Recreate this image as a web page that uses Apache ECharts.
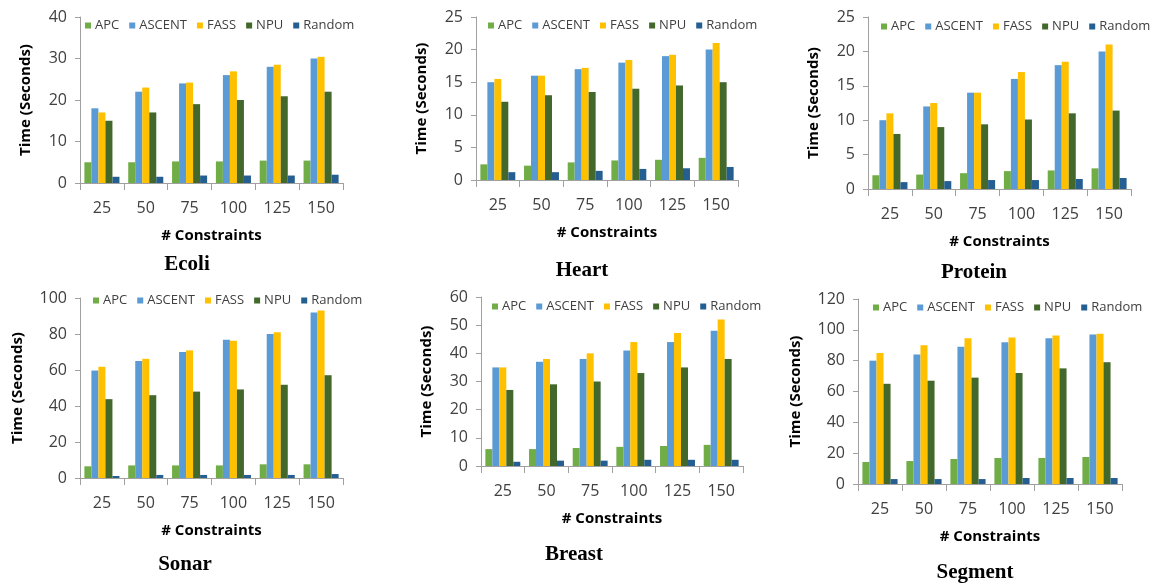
<!DOCTYPE html>
<html>
<head>
<meta charset="utf-8">
<script src="https://cdn.jsdelivr.net/npm/echarts@6/dist/echarts.min.js"></script>
<style>
  html, body { margin: 0; padding: 0; background: #fff; }
  #chart { width: 1158px; height: 585px; }
</style>
</head>
<body>
<div id="chart"></div>
<script>
// ---------- DATA ----------
const categories = ['25', '50', '75', '100', '125', '150'];
const seriesNames = ['APC', 'ASCENT', 'FASS', 'NPU', 'Random'];
const panelTitles = ['Ecoli', 'Heart', 'Protein', 'Sonar', 'Breast', 'Segment'];
const yMax = [40, 25, 25, 100, 60, 120];
const yStep = [10, 5, 5, 20, 10, 20];

const ecoliAPC    = [5.0, 5.0, 5.2, 5.2, 5.4, 5.4];
const ecoliASCENT = [18, 22, 24, 26, 28, 30];
const ecoliFASS   = [17, 23, 24.2, 26.9, 28.5, 30.4];
const ecoliNPU    = [15, 17, 19, 20, 20.9, 22];
const ecoliRandom = [1.5, 1.5, 1.8, 1.8, 1.8, 2.0];

const heartAPC    = [2.4, 2.2, 2.7, 3.0, 3.1, 3.4];
const heartASCENT = [15, 16, 17, 18, 19, 20];
const heartFASS   = [15.5, 16, 17.2, 18.4, 19.2, 21];
const heartNPU    = [12, 13, 13.5, 14, 14.5, 15];
const heartRandom = [1.2, 1.2, 1.4, 1.7, 1.8, 2.0];

const proteinAPC    = [2.0, 2.1, 2.3, 2.6, 2.7, 3.0];
const proteinASCENT = [10, 12, 14, 16, 18, 20];
const proteinFASS   = [11, 12.5, 14, 17, 18.5, 21];
const proteinNPU    = [8, 9, 9.4, 10.1, 11, 11.4];
const proteinRandom = [1.0, 1.15, 1.3, 1.3, 1.45, 1.6];

const sonarAPC    = [6.5, 7, 7, 7, 7.6, 7.6];
const sonarASCENT = [59.7, 65, 70, 76.8, 80, 92];
const sonarFASS   = [61.8, 66.2, 70.9, 76.2, 81, 93];
const sonarNPU    = [43.8, 46, 48, 49.2, 51.8, 57.1];
const sonarRandom = [1.1, 1.7, 1.7, 1.7, 1.7, 2.2];

const breastAPC    = [6, 6, 6.4, 6.8, 7.1, 7.5];
const breastASCENT = [35, 37, 38, 41, 44, 48];
const breastFASS   = [35, 38, 40, 44, 47.2, 52];
const breastNPU    = [27, 29, 30, 33, 35, 38];
const breastRandom = [1.5, 1.9, 1.9, 2.2, 2.2, 2.2];

const segmentAPC    = [14.3, 14.9, 16.2, 16.9, 16.9, 17.5];
const segmentASCENT = [80, 84, 89, 92, 94.5, 97];
const segmentFASS   = [85, 90, 94.5, 95, 96.4, 97.5];
const segmentNPU    = [65, 67, 69, 72, 75, 79];
const segmentRandom = [3.2, 3.2, 3.2, 3.9, 3.9, 3.9];

const panelData = [
  [ecoliAPC, ecoliASCENT, ecoliFASS, ecoliNPU, ecoliRandom],
  [heartAPC, heartASCENT, heartFASS, heartNPU, heartRandom],
  [proteinAPC, proteinASCENT, proteinFASS, proteinNPU, proteinRandom],
  [sonarAPC, sonarASCENT, sonarFASS, sonarNPU, sonarRandom],
  [breastAPC, breastASCENT, breastFASS, breastNPU, breastRandom],
  [segmentAPC, segmentASCENT, segmentFASS, segmentNPU, segmentRandom]
];

// ---------- LAYOUT / STYLE ----------
const colors = ['#70AD47', '#5B9BD5', '#FFC000', '#43682B', '#255E91'];
// grid boxes: [left, top, right-edge, bottom-edge]
const boxes = [
  [80, 17, 343, 183],
  [476, 17, 738, 180],
  [868, 17, 1131, 189],
  [80, 298, 343, 478],
  [481, 297, 743, 466],
  [858, 299, 1122, 484]
];
const legendPos = [[85, 27], [488, 27], [881, 28], [93, 302], [492, 308], [873, 309]];
const titlePos = [[187, 265], [582, 271], [974, 273], [185, 565], [574, 555], [975, 573]];
const yNameGap = [47, 47, 47, 55, 47, 55];

const axisGray = '#A0A0A0';
const labelColor = '#404040';
const sansFont = '"Open Sans", "DejaVu Sans", sans-serif';

const grid = [], xAxis = [], yAxis = [], series = [], legend = [], graphic = [];

boxes.forEach((b, i) => {
  grid.push({ left: b[0], top: b[1], width: b[2] - b[0], height: b[3] - b[1], containLabel: false });
  xAxis.push({
    type: 'category', gridIndex: i, data: categories,
    axisLine: { show: true, lineStyle: { color: axisGray, width: 1 } },
    axisTick: { show: true, length: 7, alignWithLabel: false, lineStyle: { color: axisGray } },
    axisLabel: { fontSize: 16, color: labelColor, margin: 17, fontFamily: sansFont },
    name: '# Constraints', nameLocation: 'middle', nameGap: 45,
    nameTextStyle: { fontSize: 15, fontWeight: 'bold', color: '#000', fontFamily: sansFont },
    splitLine: { show: false }
  });
  yAxis.push({
    type: 'value', gridIndex: i, min: 0, max: yMax[i], interval: yStep[i],
    axisLine: { show: true, lineStyle: { color: axisGray, width: 1 } },
    axisTick: { show: true, length: 5, lineStyle: { color: axisGray } },
    axisLabel: { fontSize: 16, color: labelColor, margin: 13, fontFamily: sansFont },
    splitLine: { show: false },
    name: 'Time (Seconds)', nameLocation: 'middle', nameRotate: 90, nameGap: yNameGap[i],
    nameTextStyle: { fontSize: 15, fontWeight: 'bold', color: '#000', fontFamily: sansFont }
  });
  seriesNames.forEach((n, k) => {
    series.push({
      type: 'bar', name: n, xAxisIndex: i, yAxisIndex: i,
      data: panelData[i][k],
      barGap: '0%', barCategoryGap: '20%',
      itemStyle: { color: colors[k] },
      emphasis: { disabled: true }
    });
  });
  legend.push({
    data: seriesNames, left: legendPos[i][0], top: legendPos[i][1] - 8,
    padding: 0, itemGap: 10, itemWidth: 6, itemHeight: 6, icon: 'rect',
    textStyle: { fontSize: 13, color: labelColor, fontFamily: sansFont, padding: [0, 0, 0, -1] },
    selectedMode: false
  });
  graphic.push({
    type: 'text', x: titlePos[i][0], y: titlePos[i][1],
    style: {
      text: panelTitles[i], fill: '#000',
      font: 'bold 21px "Liberation Serif", "Times New Roman", serif',
      textAlign: 'center', textVerticalAlign: 'middle'
    }
  });
});

const chart = echarts.init(document.getElementById('chart'), null, { renderer: 'canvas' });
chart.setOption({
  animation: false,
  color: colors,
  grid, xAxis, yAxis, series, legend, graphic
});
</script>
</body>
</html>
